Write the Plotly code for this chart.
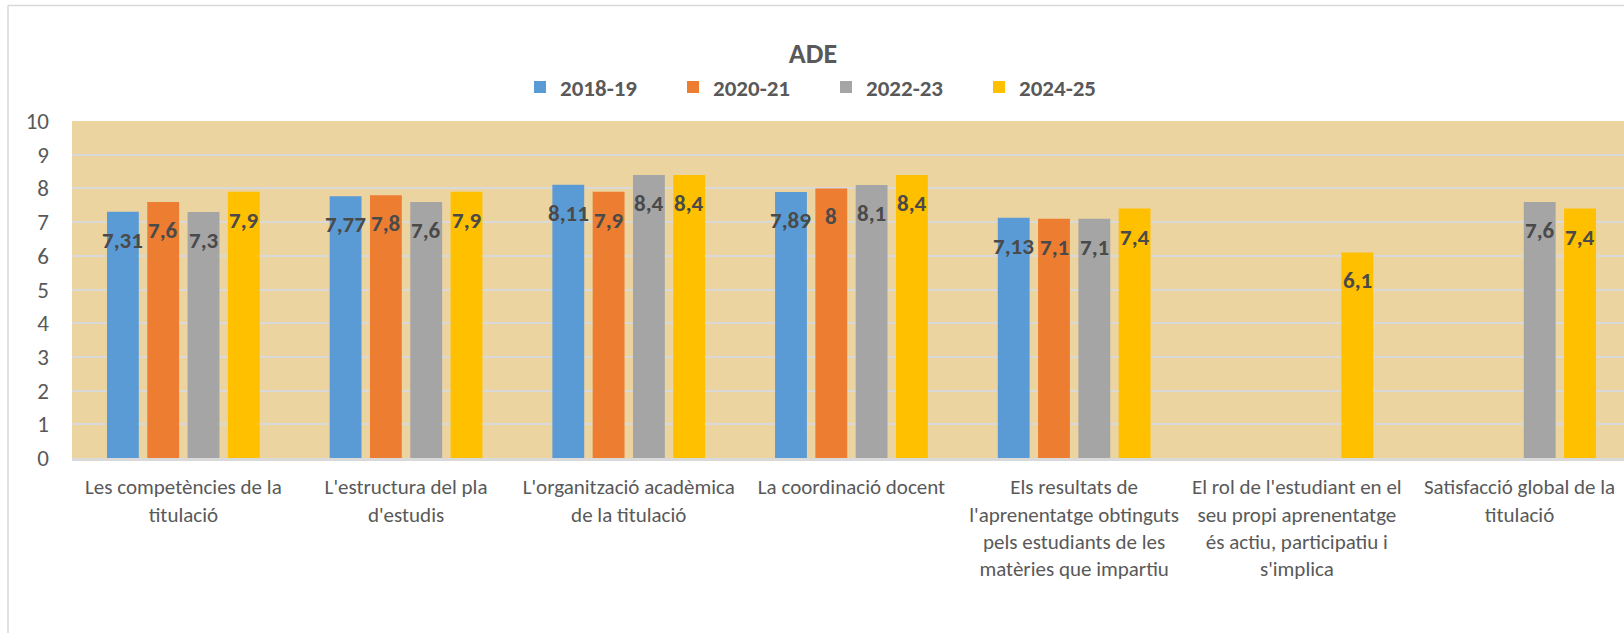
import plotly.graph_objects as go

categories = [
    "Les competències de la<br>titulació",
    "L'estructura del pla<br>d'estudis",
    "L'organització acadèmica<br>de la titulació",
    "La coordinació docent",
    "Els resultats de<br>l'aprenentatge obtinguts<br>pels estudiants de les<br>matèries que impartiu",
    "El rol de l'estudiant en el<br>seu propi aprenentatge<br>és actiu, participatiu i<br>s'implica",
    "Satisfacció global de la<br>titulació",
]
series_names = ["2018-19", "2020-21", "2022-23", "2024-25"]
v_2018 = [7.31, 7.77, 8.11, 7.89, 7.13, None, None]
v_2020 = [7.6, 7.8, 7.9, 8, 7.1, None, None]
v_2022 = [7.3, 7.6, 8.4, 8.1, 7.1, None, 7.6]
v_2024 = [7.9, 7.9, 8.4, 8.4, 7.4, 6.1, 7.4]
series_values = [v_2018, v_2020, v_2022, v_2024]
colors = ["#5B9BD5", "#ED7D31", "#A5A5A5", "#FFC000"]
y_ticks = list(range(0, 11))

W, H = 1624, 633
ML, MR, MT, MB = 72, 0, 121, 175
CAT_PX = 222.7
BARGAP = 0.276
BARGROUPGAP = 0.21

FONT = "Carlito, Liberation Sans Narrow, Open Sans, sans-serif"
TXT = "#595959"

plot_w = W - ML - MR
x_right = -0.5 + plot_w / CAT_PX
xs = list(range(len(categories)))

fig = go.Figure()
for name, vals, col in zip(series_names, series_values, colors):
    fig.add_trace(go.Bar(name=name, x=xs, y=vals, marker=dict(color=col, line=dict(width=0))))

n = len(series_names)
slot = (1 - BARGAP) / n
annotations = []
for k, vals in enumerate(series_values):
    off = (k - (n - 1) / 2) * slot
    for i, v in enumerate(vals):
        if v is None:
            continue
        annotations.append(dict(
            x=i + off, y=v, xref="x", yref="y", text=f"{v:g}".replace(".", ","),
            showarrow=False, yshift=-28, yanchor="middle", xanchor="center",
            font=dict(family=FONT, size=23, color="#4A4A4A", weight="bold"),
        ))

plot_h = H - MT - MB
def px_to_paper_x(px):
    return (px - ML) / plot_w
def px_to_paper_y(py):
    return (H - MB - py) / plot_h

shapes = [
    dict(type="line", xref="paper", yref="paper", x0=px_to_paper_x(8), x1=px_to_paper_x(8),
         y0=px_to_paper_y(5.5), y1=px_to_paper_y(H + 2), line=dict(color="#D9D9D9", width=1.5)),
    dict(type="line", xref="paper", yref="paper", x0=px_to_paper_x(8), x1=px_to_paper_x(W + 2),
         y0=px_to_paper_y(5.5), y1=px_to_paper_y(5.5), line=dict(color="#D9D9D9", width=1.5)),
]

fig.update_layout(
    width=W, height=H,
    margin=dict(l=ML, r=MR, t=MT, b=MB, autoexpand=False),
    paper_bgcolor="white",
    plot_bgcolor="#ECD4A0",
    barmode="group", bargap=BARGAP, bargroupgap=BARGROUPGAP,
    title=dict(text="<b>ADE</b>", x=813 / W, xref="container", xanchor="center",
               y=1 - 53 / H, yref="container", yanchor="middle",
               font=dict(family=FONT, size=28, color=TXT)),
    legend=dict(orientation="h", xref="container", yref="container",
                x=826 / W, xanchor="center", y=1 - 87 / H, yanchor="middle",
                font=dict(family=FONT, size=23, color=TXT, weight="bold"),
                entrywidth=108, entrywidthmode="pixels", itemwidth=30),
    xaxis=dict(range=[-0.5, x_right], tickvals=xs, ticktext=categories,
               showgrid=False, showline=True, linecolor="#D9D9D9", linewidth=3,
               ticks="", tickfont=dict(family=FONT, size=21, color=TXT),
               ticklabelstandoff=8, zeroline=False),
    yaxis=dict(range=[0, 10], tickvals=y_ticks, showgrid=True, gridcolor="#D9D9D9",
               gridwidth=2, zeroline=False, ticks="", showline=False,
               tickfont=dict(family=FONT, size=23, color=TXT), ticklabelstandoff=22),
    annotations=annotations,
    shapes=shapes,
)

fig.write_html("out.html", config={"displayModeBar": False},
               post_script="document.body.style.margin='0px';")
